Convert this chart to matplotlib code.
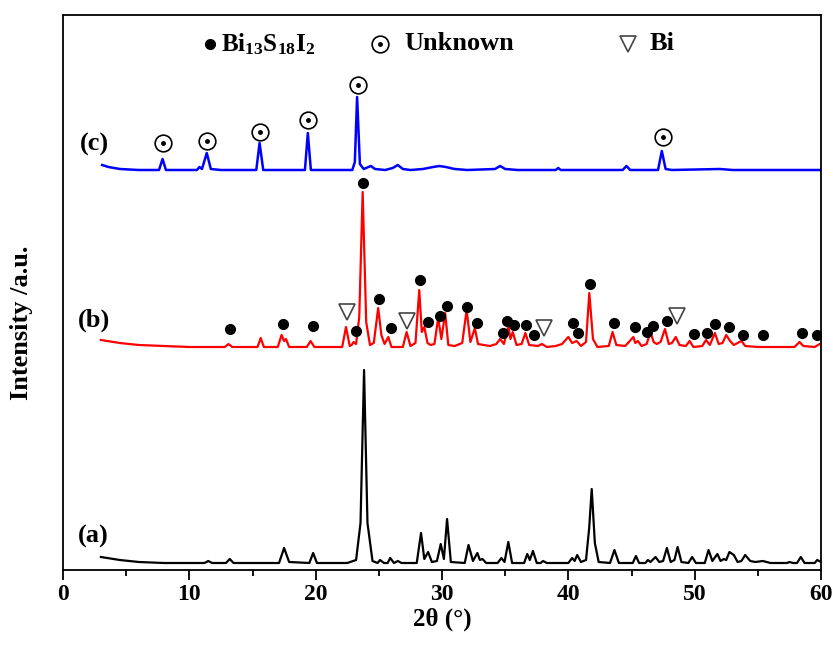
import matplotlib
matplotlib.use("Agg")
import matplotlib.pyplot as plt
import numpy as np

plt.rcParams['font.family'] = ['Liberation Serif', 'DejaVu Serif']
plt.rcParams['font.weight'] = 'bold'
plt.rcParams['axes.labelweight'] = 'bold'
plt.rcParams['mathtext.fontset'] = 'custom'
plt.rcParams['mathtext.rm'] = 'Liberation Serif:bold'
plt.rcParams['mathtext.it'] = 'Liberation Serif:bold'
plt.rcParams['mathtext.bf'] = 'Liberation Serif:bold'

# trace (a) - black, height above its own baseline
a_x = [3.0, 3.5, 4.5, 6, 8, 11.2, 11.5, 11.8, 12.9, 13.2, 13.5, 17.1, 17.5, 17.9, 19.5, 19.8, 20.1,
       22.5, 23.2, 23.55, 23.83, 24.1, 24.5, 24.9, 25.1, 25.4, 25.7, 25.9, 26.2, 26.5, 26.8,
       28.0, 28.34, 28.6, 28.9, 29.2, 29.6, 29.9, 30.15, 30.4, 30.7, 31.8, 32.1, 32.45, 32.8,
       33.0, 33.2, 33.5, 34.4, 34.7, 34.95, 35.25, 35.55, 36.5, 36.75, 36.95, 37.2, 37.5, 37.8,
       38.0, 38.3, 40.0, 40.3, 40.5, 40.7, 41.0, 41.4, 41.65, 41.85, 42.1, 42.4, 43.3, 43.65,
       44.0, 45.1, 45.35, 45.6, 46.1, 46.3, 46.5, 46.9, 47.2, 47.5, 47.8, 48.1, 48.4, 48.65,
       48.95, 49.5, 49.8, 50.1, 50.8, 51.1, 51.4, 51.8, 52.05, 52.3, 52.5, 52.75, 53.1, 53.4,
       53.7, 54.0, 54.4, 54.8, 55.4, 56, 57.3, 57.5, 57.8, 58.1, 58.4, 58.7, 59.5, 59.7, 60]
a_y = [6, 5, 3, 1, 0, 0, 2, 0, 0, 4, 0, 0, 15, 1, 0, 10, 0,
       0, 3, 40, 193, 40, 2, 0, 3, 0, 0, 5, 0, 2, 0,
       0, 30, 4, 11, 1, 2, 19, 4, 44, 1, 0, 18, 2, 10,
       3, 4, 0, 0, 5, 1, 21, 0, 0, 9, 3, 12, 0, 0,
       2, 0, 0, 5, 2, 8, 1, 3, 35, 74, 20, 1, 0, 13,
       0, 0, 7, 0, 0, 3, 1, 6, 1, 2, 15, 1, 3, 16,
       1, 0, 6, 0, 0, 13, 2, 9, 2, 4, 3, 11, 8, 1,
       2, 8, 2, 1, 2, 0, 0, 1, 0, 0, 6, 0, 0, 3, 1]

# trace (b) - red
b_x = [3.0, 3.5, 4.5, 6, 8, 10, 12.8, 13.1, 13.4, 15.4, 15.65, 15.9, 17.0, 17.3, 17.5, 17.65, 17.9,
       19.3, 19.6, 19.9, 22.1, 22.4, 22.7, 22.85, 23.0, 23.2, 23.45, 23.72, 24.0, 24.3, 24.6,
       24.95, 25.2, 25.45, 25.75, 26.0, 26.9, 27.2, 27.5, 27.9, 28.2, 28.4, 28.6, 28.85, 29.1,
       29.4, 29.7, 29.95, 30.25, 30.5, 31.0, 31.6, 31.95, 32.25, 32.6, 32.85, 33.3, 33.8, 34.3,
       34.6, 34.9, 35.25, 35.42, 35.6, 35.9, 36.3, 36.6, 36.9, 37.6, 37.9, 38.3, 39.0, 39.5,
       40.0, 40.3, 40.66, 41.0, 41.4, 41.66, 41.95, 42.3, 43.2, 43.5, 43.8, 44.5, 45.15, 45.3,
       45.5, 45.8, 46.2, 46.5, 46.75, 47.0, 47.3, 47.65, 47.95, 48.2, 48.5, 48.8, 49.3, 49.6,
       49.9, 50.6, 50.9, 51.2, 51.6, 51.9, 52.2, 52.5, 52.8, 53.1, 53.7, 54.0, 55, 57.9, 58.3,
       58.6, 59.5, 59.9, 60]
b_y = [7, 6, 4, 2, 1, 0, 0, 3, 0, 0, 9, 0, 0, 12, 6, 8, 0,
       0, 6, 0, 0, 20, 1, 2, 5, 3, 30, 155, 25, 2, 4,
       39, 12, 3, 10, 0, 0, 15, 1, 4, 57, 15, 20, 4, 2,
       3, 29, 8, 34, 2, 1, 4, 37, 5, 19, 3, 2, 1, 3,
       8, 3, 21, 8, 15, 2, 3, 14, 2, 1, 3, 0, 1, 3,
       10, 4, 6, 1, 5, 54, 8, 0, 1, 15, 2, 1, 10, 4,
       6, 1, 3, 15, 5, 3, 5, 18, 3, 4, 10, 2, 1, 6,
       0, 1, 7, 2, 14, 3, 4, 12, 6, 2, 6, 1, 0, 0, 5,
       1, 0, 3, 2]

# trace (c) - blue
c_x = [3.1, 3.6, 4.5, 6, 7.6, 7.88, 8.15, 10.6, 10.8, 11.0, 11.38, 11.7, 12.5, 15.3, 15.56, 15.85,
       19.15, 19.38, 19.62, 22.9, 23.1, 23.28, 23.5, 23.8, 24.37, 24.7, 25.5, 26.1, 26.5, 26.9,
       27.5, 28.5, 29.3, 29.8, 30.3, 31, 32, 34.2, 34.6, 35.0, 36, 39.0, 39.2, 39.4, 44.3, 44.6,
       44.9, 47.1, 47.4, 47.7, 48.2, 52, 53, 60]
c_y = [5, 3, 1, 0, 0, 11, 0, 0, 3, 1, 17, 1, 0, 0, 27, 0,
       0, 37, 0, 0, 8, 73, 6, 1, 4, 1, 0, 2, 5, 1,
       0, 1, 3, 4, 3, 1, 0, 1, 4, 1, 0, 0, 2, 0, 0, 4,
       0, 0, 19, 1, 0, 1, 0, 0]

offset_a, offset_b, offset_c = 7, 223, 400

# phase markers (absolute positions on the plot)
bis_x = [13.22, 17.39, 19.76, 23.19, 23.77, 25.04, 25.96, 28.26, 28.89, 29.84, 30.37, 32.0, 32.8,
         34.8, 35.17, 35.73, 36.65, 37.26, 40.34, 40.79, 41.72, 43.61, 45.28, 46.2, 46.73, 47.79,
         49.95, 51.0, 51.63, 52.69, 53.85, 55.38, 58.5, 59.66]
bis_y = [241, 245.7, 244, 238.7, 386.7, 271.3, 242, 289.7, 248.3, 254, 264, 263.3, 247.3,
         237.3, 249, 244.7, 244.7, 234.7, 246.7, 236.7, 285.7, 246.7, 242.7, 238.3, 244, 249.3,
         235.7, 237.3, 245.7, 242.7, 235, 235, 237.3, 235]
bi_x = [22.45, 27.2, 38.07, 48.58]
bi_y = [258.3, 249.3, 241.7, 254]
unk_x = [7.9, 11.4, 15.56, 19.4, 23.35, 47.5]
unk_y = [426.7, 429.3, 438.3, 450, 485, 433.3]

fig = plt.figure(figsize=(8.33, 6.45), dpi=100)
ax = fig.add_axes([63/833, 75/645, 758/833, 555/645])

ax.plot(a_x, np.array(a_y) + offset_a, color='black', lw=1.6)
ax.plot(b_x, np.array(b_y) + offset_b, color='red', lw=1.6)
ax.plot(c_x, np.array(c_y) + offset_c, color='blue', lw=1.8)

ax.plot(bis_x, bis_y, 'o', color='black', ms=7, ls='none')
ax.plot(bi_x, bi_y, 'v', mfc='white', mec='#444444', mew=1.2, ms=12, ls='none')
ax.plot(unk_x, unk_y, 'o', mfc='none', mec='black', mew=1.2, ms=12, ls='none')
ax.plot(unk_x, unk_y, 'o', color='black', ms=2.5, ls='none')

# legend glyphs
ax.plot([0.194], [0.948], 'o', color='black', ms=7, transform=ax.transAxes)
ax.text(0.209, 0.948, r'Bi$_{13}$S$_{18}$I$_{2}$', transform=ax.transAxes, fontsize=18,
        va='center', ha='left')
ax.plot([0.418], [0.948], 'o', mfc='none', mec='black', mew=1.2, ms=12, transform=ax.transAxes)
ax.plot([0.418], [0.948], 'o', color='black', ms=2.5, transform=ax.transAxes)
ax.text(0.450, 0.948, 'Unknown', transform=ax.transAxes, fontsize=19, va='center', ha='left')
ax.plot([0.745], [0.948], 'v', mfc='white', mec='#444444', mew=1.2, ms=12, transform=ax.transAxes)
ax.text(0.774, 0.948, 'Bi', transform=ax.transAxes, fontsize=19, va='center', ha='left')

ax.text(0.022, 0.766, '(c)', transform=ax.transAxes, fontsize=19, va='center', ha='left')
ax.text(0.020, 0.450, '(b)', transform=ax.transAxes, fontsize=19, va='center', ha='left')
ax.text(0.020, 0.061, '(a)', transform=ax.transAxes, fontsize=19, va='center', ha='left')

ax.set_xlim(0, 60)
ax.set_ylim(0, 555)
ax.set_xticks(np.arange(0, 61, 10))
ax.set_xticks(np.arange(5, 60, 10), minor=True)
ax.set_yticks([])
ax.tick_params(axis='x', which='major', direction='out', length=7, width=1.3, labelsize=17, pad=3)
ax.tick_params(axis='x', which='minor', direction='out', length=4, width=1.3)
for s in ax.spines.values():
    s.set_linewidth(1.3)

ax.set_xlabel('2θ (°)', fontsize=18, labelpad=2)
fig.text(22/833, (645-323)/645, 'Intensity /a.u.', rotation=90, fontsize=19,
         ha='center', va='center')

fig.savefig('out.png', dpi=100)
